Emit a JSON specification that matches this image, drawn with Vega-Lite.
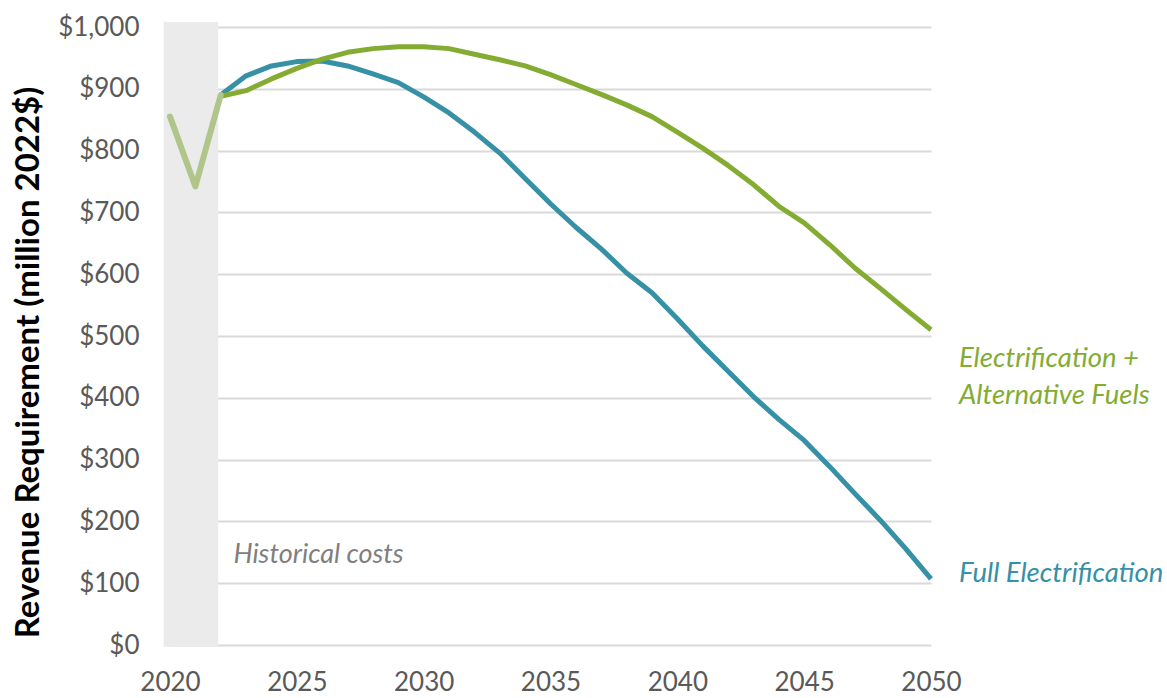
{
  "$schema": "https://vega.github.io/schema/vega-lite/v6.json",
  "autosize": "none",
  "width": 761,
  "height": 618,
  "padding": {"left": 170, "top": 27, "right": 236, "bottom": 53},
  "background": "white",
  "config": {"view": {"stroke": null}, "font": "Lato"},
  "datasets": {
    "series": [
      {"year": 2020, "value": 855, "series": "Historical"},
      {"year": 2021, "value": 742, "series": "Historical"},
      {"year": 2022, "value": 890, "series": "Historical"},
      {"year": 2022, "value": 890, "series": "Full Electrification"},
      {"year": 2023, "value": 921, "series": "Full Electrification"},
      {"year": 2024, "value": 937, "series": "Full Electrification"},
      {"year": 2025, "value": 944, "series": "Full Electrification"},
      {"year": 2026, "value": 945, "series": "Full Electrification"},
      {"year": 2027, "value": 937, "series": "Full Electrification"},
      {"year": 2028, "value": 924, "series": "Full Electrification"},
      {"year": 2029, "value": 910, "series": "Full Electrification"},
      {"year": 2030, "value": 887, "series": "Full Electrification"},
      {"year": 2031, "value": 861, "series": "Full Electrification"},
      {"year": 2032, "value": 830, "series": "Full Electrification"},
      {"year": 2033, "value": 796, "series": "Full Electrification"},
      {"year": 2034, "value": 755, "series": "Full Electrification"},
      {"year": 2035, "value": 714, "series": "Full Electrification"},
      {"year": 2036, "value": 676, "series": "Full Electrification"},
      {"year": 2037, "value": 641, "series": "Full Electrification"},
      {"year": 2038, "value": 602, "series": "Full Electrification"},
      {"year": 2039, "value": 570, "series": "Full Electrification"},
      {"year": 2040, "value": 528, "series": "Full Electrification"},
      {"year": 2041, "value": 484, "series": "Full Electrification"},
      {"year": 2042, "value": 443, "series": "Full Electrification"},
      {"year": 2043, "value": 402, "series": "Full Electrification"},
      {"year": 2044, "value": 365, "series": "Full Electrification"},
      {"year": 2045, "value": 331, "series": "Full Electrification"},
      {"year": 2046, "value": 289, "series": "Full Electrification"},
      {"year": 2047, "value": 245, "series": "Full Electrification"},
      {"year": 2048, "value": 202, "series": "Full Electrification"},
      {"year": 2049, "value": 156, "series": "Full Electrification"},
      {"year": 2050, "value": 107, "series": "Full Electrification"},
      {"year": 2022, "value": 888, "series": "Electrification + Alternative Fuels"},
      {"year": 2023, "value": 897, "series": "Electrification + Alternative Fuels"},
      {"year": 2024, "value": 916, "series": "Electrification + Alternative Fuels"},
      {"year": 2025, "value": 933, "series": "Electrification + Alternative Fuels"},
      {"year": 2026, "value": 948, "series": "Electrification + Alternative Fuels"},
      {"year": 2027, "value": 959, "series": "Electrification + Alternative Fuels"},
      {"year": 2028, "value": 965, "series": "Electrification + Alternative Fuels"},
      {"year": 2029, "value": 968, "series": "Electrification + Alternative Fuels"},
      {"year": 2030, "value": 968, "series": "Electrification + Alternative Fuels"},
      {"year": 2031, "value": 965, "series": "Electrification + Alternative Fuels"},
      {"year": 2032, "value": 956, "series": "Electrification + Alternative Fuels"},
      {"year": 2033, "value": 947, "series": "Electrification + Alternative Fuels"},
      {"year": 2034, "value": 937, "series": "Electrification + Alternative Fuels"},
      {"year": 2035, "value": 923, "series": "Electrification + Alternative Fuels"},
      {"year": 2036, "value": 907, "series": "Electrification + Alternative Fuels"},
      {"year": 2037, "value": 891, "series": "Electrification + Alternative Fuels"},
      {"year": 2038, "value": 874, "series": "Electrification + Alternative Fuels"},
      {"year": 2039, "value": 855, "series": "Electrification + Alternative Fuels"},
      {"year": 2040, "value": 830, "series": "Electrification + Alternative Fuels"},
      {"year": 2041, "value": 804, "series": "Electrification + Alternative Fuels"},
      {"year": 2042, "value": 776, "series": "Electrification + Alternative Fuels"},
      {"year": 2043, "value": 745, "series": "Electrification + Alternative Fuels"},
      {"year": 2044, "value": 710, "series": "Electrification + Alternative Fuels"},
      {"year": 2045, "value": 683, "series": "Electrification + Alternative Fuels"},
      {"year": 2046, "value": 648, "series": "Electrification + Alternative Fuels"},
      {"year": 2047, "value": 610, "series": "Electrification + Alternative Fuels"},
      {"year": 2048, "value": 577, "series": "Electrification + Alternative Fuels"},
      {"year": 2049, "value": 543, "series": "Electrification + Alternative Fuels"},
      {"year": 2050, "value": 510, "series": "Electrification + Alternative Fuels"}
    ],
    "band": [{"start": 2019.75, "end": 2021.9, "low": -3, "high": 1008}],
    "labels": [
      {"year": 2051.1, "value": 138, "text": ["Full Electrification"], "series": "Full Electrification"},
      {"year": 2051.1, "value": 486, "text": ["Electrification +", "Alternative Fuels"], "series": "Electrification + Alternative Fuels"},
      {"year": 2022.5, "value": 146, "text": ["Historical costs"], "series": "note"}
    ]
  },
  "encoding": {
    "x": {
      "field": "year", "type": "quantitative",
      "scale": {"domain": [2020, 2050], "nice": false, "zero": false},
      "axis": {
        "values": [2020, 2025, 2030, 2035, 2040, 2045, 2050],
        "format": "d", "title": null, "grid": false, "domain": false, "ticks": false,
        "labelFontSize": 26, "labelColor": "#595959", "labelPadding": 24,
        "labelFont": "Lato", "labelFlush": false
      }
    },
    "y": {
      "field": "value", "type": "quantitative",
      "scale": {"domain": [0, 1000], "nice": false},
      "axis": {
        "values": [0, 100, 200, 300, 400, 500, 600, 700, 800, 900, 1000],
        "format": "$,.0f", "title": "Revenue Requirement (million 2022$)",
        "grid": true, "gridColor": "#d9d9d9", "gridWidth": 2,
        "domain": false, "ticks": false,
        "labelFontSize": 26, "labelColor": "#595959", "labelPadding": 31,
        "labelFont": "Lato",
        "titleFontSize": 33, "titleFont": "Lato", "titleFontWeight": "bold",
        "titleColor": "#000000", "titlePadding": 12, "titleY": 335
      }
    }
  },
  "layer": [
    {
      "data": {"name": "band"},
      "mark": {"type": "rect", "color": "#ebebeb"},
      "encoding": {
        "x": {"field": "start", "type": "quantitative"},
        "x2": {"field": "end"},
        "y": {"field": "low", "type": "quantitative"},
        "y2": {"field": "high"}
      }
    },
    {
      "data": {"name": "series"},
      "transform": [{"filter": "datum.series !== 'Historical'"}],
      "mark": {"type": "line", "strokeWidth": 5, "strokeJoin": "round"},
      "encoding": {
        "detail": {"field": "series"},
        "color": {
          "field": "series", "type": "nominal", "legend": null,
          "scale": {"domain": ["Full Electrification", "Electrification + Alternative Fuels", "Historical", "note"], "range": ["#3690a6", "#84ac32", "#afc58a", "#7f7f7f"]}
        }
      }
    },
    {
      "data": {"name": "series"},
      "transform": [{"filter": "datum.series === 'Historical'"}],
      "mark": {"type": "line", "strokeWidth": 6, "strokeJoin": "round", "strokeCap": "round", "color": "#afc58a"},
      "encoding": {}
    },
    {
      "data": {"name": "labels"},
      "transform": [{"filter": "datum.series !== 'note'"}],
      "mark": {"type": "text", "align": "left", "baseline": "top", "fontStyle": "italic", "fontSize": 27.5, "lineHeight": 37, "font": "Lato"},
      "encoding": {
        "text": {"field": "text"},
        "color": {"field": "series", "type": "nominal", "legend": null}
      }
    },
    {
      "data": {"name": "labels"},
      "transform": [{"filter": "datum.series === 'note'"}],
      "mark": {"type": "text", "align": "left", "baseline": "middle", "fontStyle": "italic", "fontSize": 27, "font": "Lato"},
      "encoding": {
        "text": {"field": "text"},
        "color": {"field": "series", "type": "nominal", "legend": null}
      }
    }
  ]
}
